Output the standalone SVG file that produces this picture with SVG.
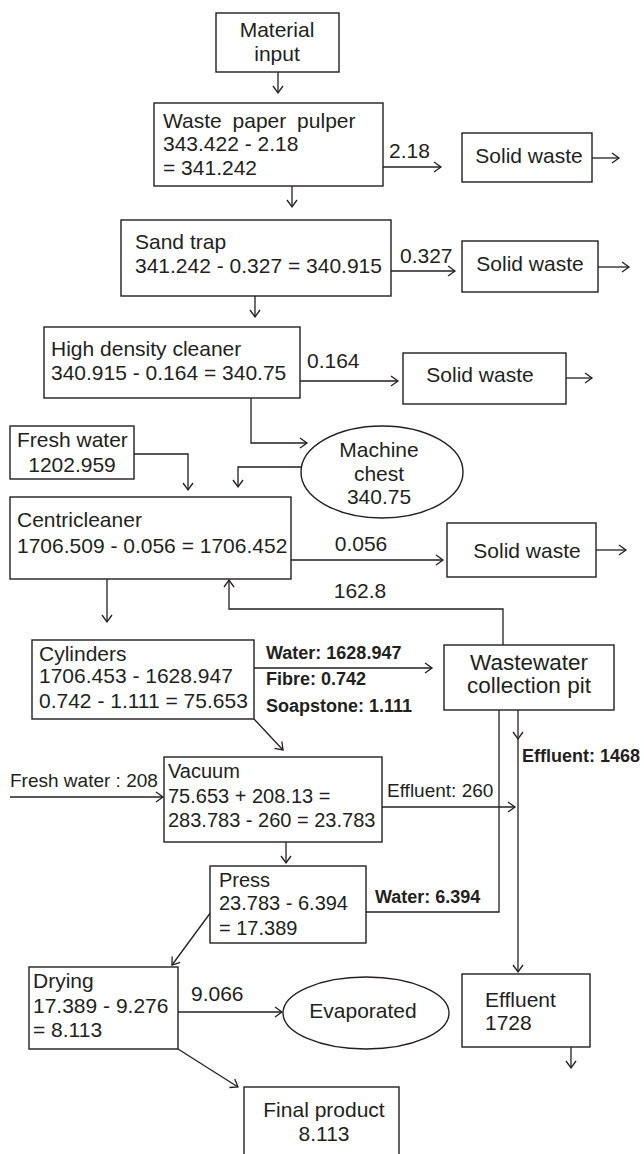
<svg xmlns="http://www.w3.org/2000/svg" width="644" height="1154" viewBox="0 0 644 1154">
<defs>
<marker id="ah" markerUnits="userSpaceOnUse" markerWidth="12" markerHeight="12" refX="8" refY="5" orient="auto" overflow="visible">
<path d="M1,0 L8,5 L1,10" fill="none" stroke="#231f20" stroke-width="1.3"/>
</marker>
<style>
text{font-family:"Liberation Sans",Arial,sans-serif;font-size:21px;fill:#231f20}
.c{text-anchor:middle}
.b{font-weight:bold;font-size:18px}
.s{font-size:20px}
rect,ellipse{fill:#fff;stroke:#231f20;stroke-width:1.4}
#connectors path{fill:none;stroke:#231f20;stroke-width:1.3}
</style>
</defs>
<rect width="644" height="1154" fill="#fff" style="stroke:none"/>
<g id="connectors">
<path d="M278,72 V93" marker-end="url(#ah)"/>
<path d="M292,186 V207" marker-end="url(#ah)"/>
<path d="M383,167 H441" marker-end="url(#ah)"/>
<path d="M592,158 H619" marker-end="url(#ah)"/>
<path d="M391,271 H455" marker-end="url(#ah)"/>
<path d="M598,267 H629" marker-end="url(#ah)"/>
<path d="M255,296 V317" marker-end="url(#ah)"/>
<path d="M300,381 H398" marker-end="url(#ah)"/>
<path d="M566,378 H592" marker-end="url(#ah)"/>
<path d="M251,398 V443 H307" marker-end="url(#ah)"/>
<path d="M134,454 H188 V490" marker-end="url(#ah)"/>
<path d="M301,467 H238 V487" marker-end="url(#ah)"/>
<path d="M291,560 H443" marker-end="url(#ah)"/>
<path d="M596,550 H626" marker-end="url(#ah)"/>
<path d="M107,579 V622" marker-end="url(#ah)"/>
<path d="M503,645 V609 H229 V580" marker-end="url(#ah)"/>
<path d="M254,668 H432" marker-end="url(#ah)"/>
<path d="M254,719 L283,750" marker-end="url(#ah)"/>
<path d="M518,710 V739" marker-end="url(#ah)"/>
<path d="M518,739 V972" marker-end="url(#ah)"/>
<path d="M366,912 H499 V710"/>
<path d="M10,797 H163" marker-end="url(#ah)"/>
<path d="M382,807 H515" marker-end="url(#ah)"/>
<path d="M286,842 V863" marker-end="url(#ah)"/>
<path d="M211,912 L172,965" marker-end="url(#ah)"/>
<path d="M178,1012 H282" marker-end="url(#ah)"/>
<path d="M178,1049 L238,1087" marker-end="url(#ah)"/>
<path d="M571,1047 V1068" marker-end="url(#ah)"/>
</g>
<g id="labels">
<text x="389" y="158">2.18</text>
<text x="400" y="263">0.327</text>
<text x="307" y="368">0.164</text>
<text x="361" y="551" class="c">0.056</text>
<text x="360" y="598" class="c">162.8</text>
<text x="266" y="659" class="b">Water: 1628.947</text>
<text x="266" y="685" class="b">Fibre: 0.742</text>
<text x="266" y="712" class="b">Soapstone: 1.111</text>
<text x="522" y="762" class="b">Effluent: 1468</text>
<text x="10" y="787" style="font-size:19px">Fresh water : 208</text>
<text x="387" y="797" style="font-size:19px">Effluent: 260</text>
<text x="375" y="903" class="b">Water: 6.394</text>
<text x="191" y="1001">9.066</text>
</g>
<g id="material-input"><rect x="216" y="13" width="123" height="59"/><text x="277" y="37" class="c">Material</text><text x="277" y="61" class="c">input</text></g>
<g id="waste-paper-pulper"><rect x="154" y="103" width="229" height="83"/><text x="163" y="128" style="word-spacing:5px">Waste paper pulper</text><text x="163" y="151">343.422 - 2.18</text><text x="163" y="175">= 341.242</text></g>
<g id="solid-waste-1"><rect x="462" y="133" width="130" height="49"/><text x="529" y="163" class="c">Solid waste</text></g>
<g id="sand-trap"><rect x="121" y="220" width="270" height="76"/><text x="135" y="249">Sand trap</text><text x="135" y="273">341.242 - 0.327 = 340.915</text></g>
<g id="solid-waste-2"><rect x="462" y="241" width="136" height="51"/><text x="530" y="271" class="c">Solid waste</text></g>
<g id="high-density-cleaner"><rect x="44" y="327" width="256" height="71"/><text x="51" y="356">High density cleaner</text><text x="51" y="380">340.915 - 0.164 = 340.75</text></g>
<g id="solid-waste-3"><rect x="403" y="353" width="163" height="51"/><text x="480" y="382" class="c">Solid waste</text></g>
<g id="machine-chest"><ellipse cx="382" cy="472" rx="81" ry="46"/><text x="379" y="457" class="c">Machine</text><text x="379" y="481" class="c">chest</text><text x="379" y="504" class="c">340.75</text></g>
<g id="fresh-water"><rect x="10" y="426" width="124" height="53"/><text x="17" y="447">Fresh water</text><text x="72" y="472" class="c">1202.959</text></g>
<g id="centricleaner"><rect x="10" y="497" width="281" height="82"/><text x="17" y="527">Centricleaner</text><text x="17" y="553">1706.509 - 0.056 = 1706.452</text></g>
<g id="solid-waste-4"><rect x="447" y="523" width="149" height="54"/><text x="527" y="558" class="c">Solid waste</text></g>
<g id="cylinders"><rect x="32" y="640" width="222" height="79"/><text x="39" y="661">Cylinders</text><text x="39" y="683">1706.453 - 1628.947</text><text x="39" y="708">0.742 - 1.111 = 75.653</text></g>
<g id="wastewater-pit"><rect x="444" y="645" width="170" height="65"/><text x="529" y="670" class="c" style="font-size:22.5px">Wastewater</text><text x="529" y="693" class="c" style="font-size:22.5px">collection pit</text></g>
<g id="vacuum"><rect x="164" y="757" width="218" height="85"/><text x="168" y="778" class="s">Vacuum</text><text x="168" y="803" class="s">75.653 + 208.13 =</text><text x="168" y="827" class="s">283.783 - 260 = 23.783</text></g>
<g id="press"><rect x="210" y="866" width="156" height="77"/><text x="219" y="887" class="s">Press</text><text x="219" y="910" class="s">23.783 - 6.394</text><text x="219" y="935" class="s">= 17.389</text></g>
<g id="drying"><rect x="29" y="967" width="149" height="82"/><text x="33" y="988">Drying</text><text x="33" y="1013">17.389 - 9.276</text><text x="33" y="1037">= 8.113</text></g>
<g id="evaporated"><ellipse cx="366" cy="1013" rx="83" ry="36"/><text x="363" y="1018" class="c">Evaporated</text></g>
<g id="effluent"><rect x="462" y="974" width="128" height="73"/><text x="485" y="1007">Effluent</text><text x="485" y="1030">1728</text></g>
<g id="final-product"><rect x="244" y="1087" width="155" height="80"/><text x="324" y="1117" class="c">Final product</text><text x="324" y="1141" class="c">8.113</text></g>
</svg>
